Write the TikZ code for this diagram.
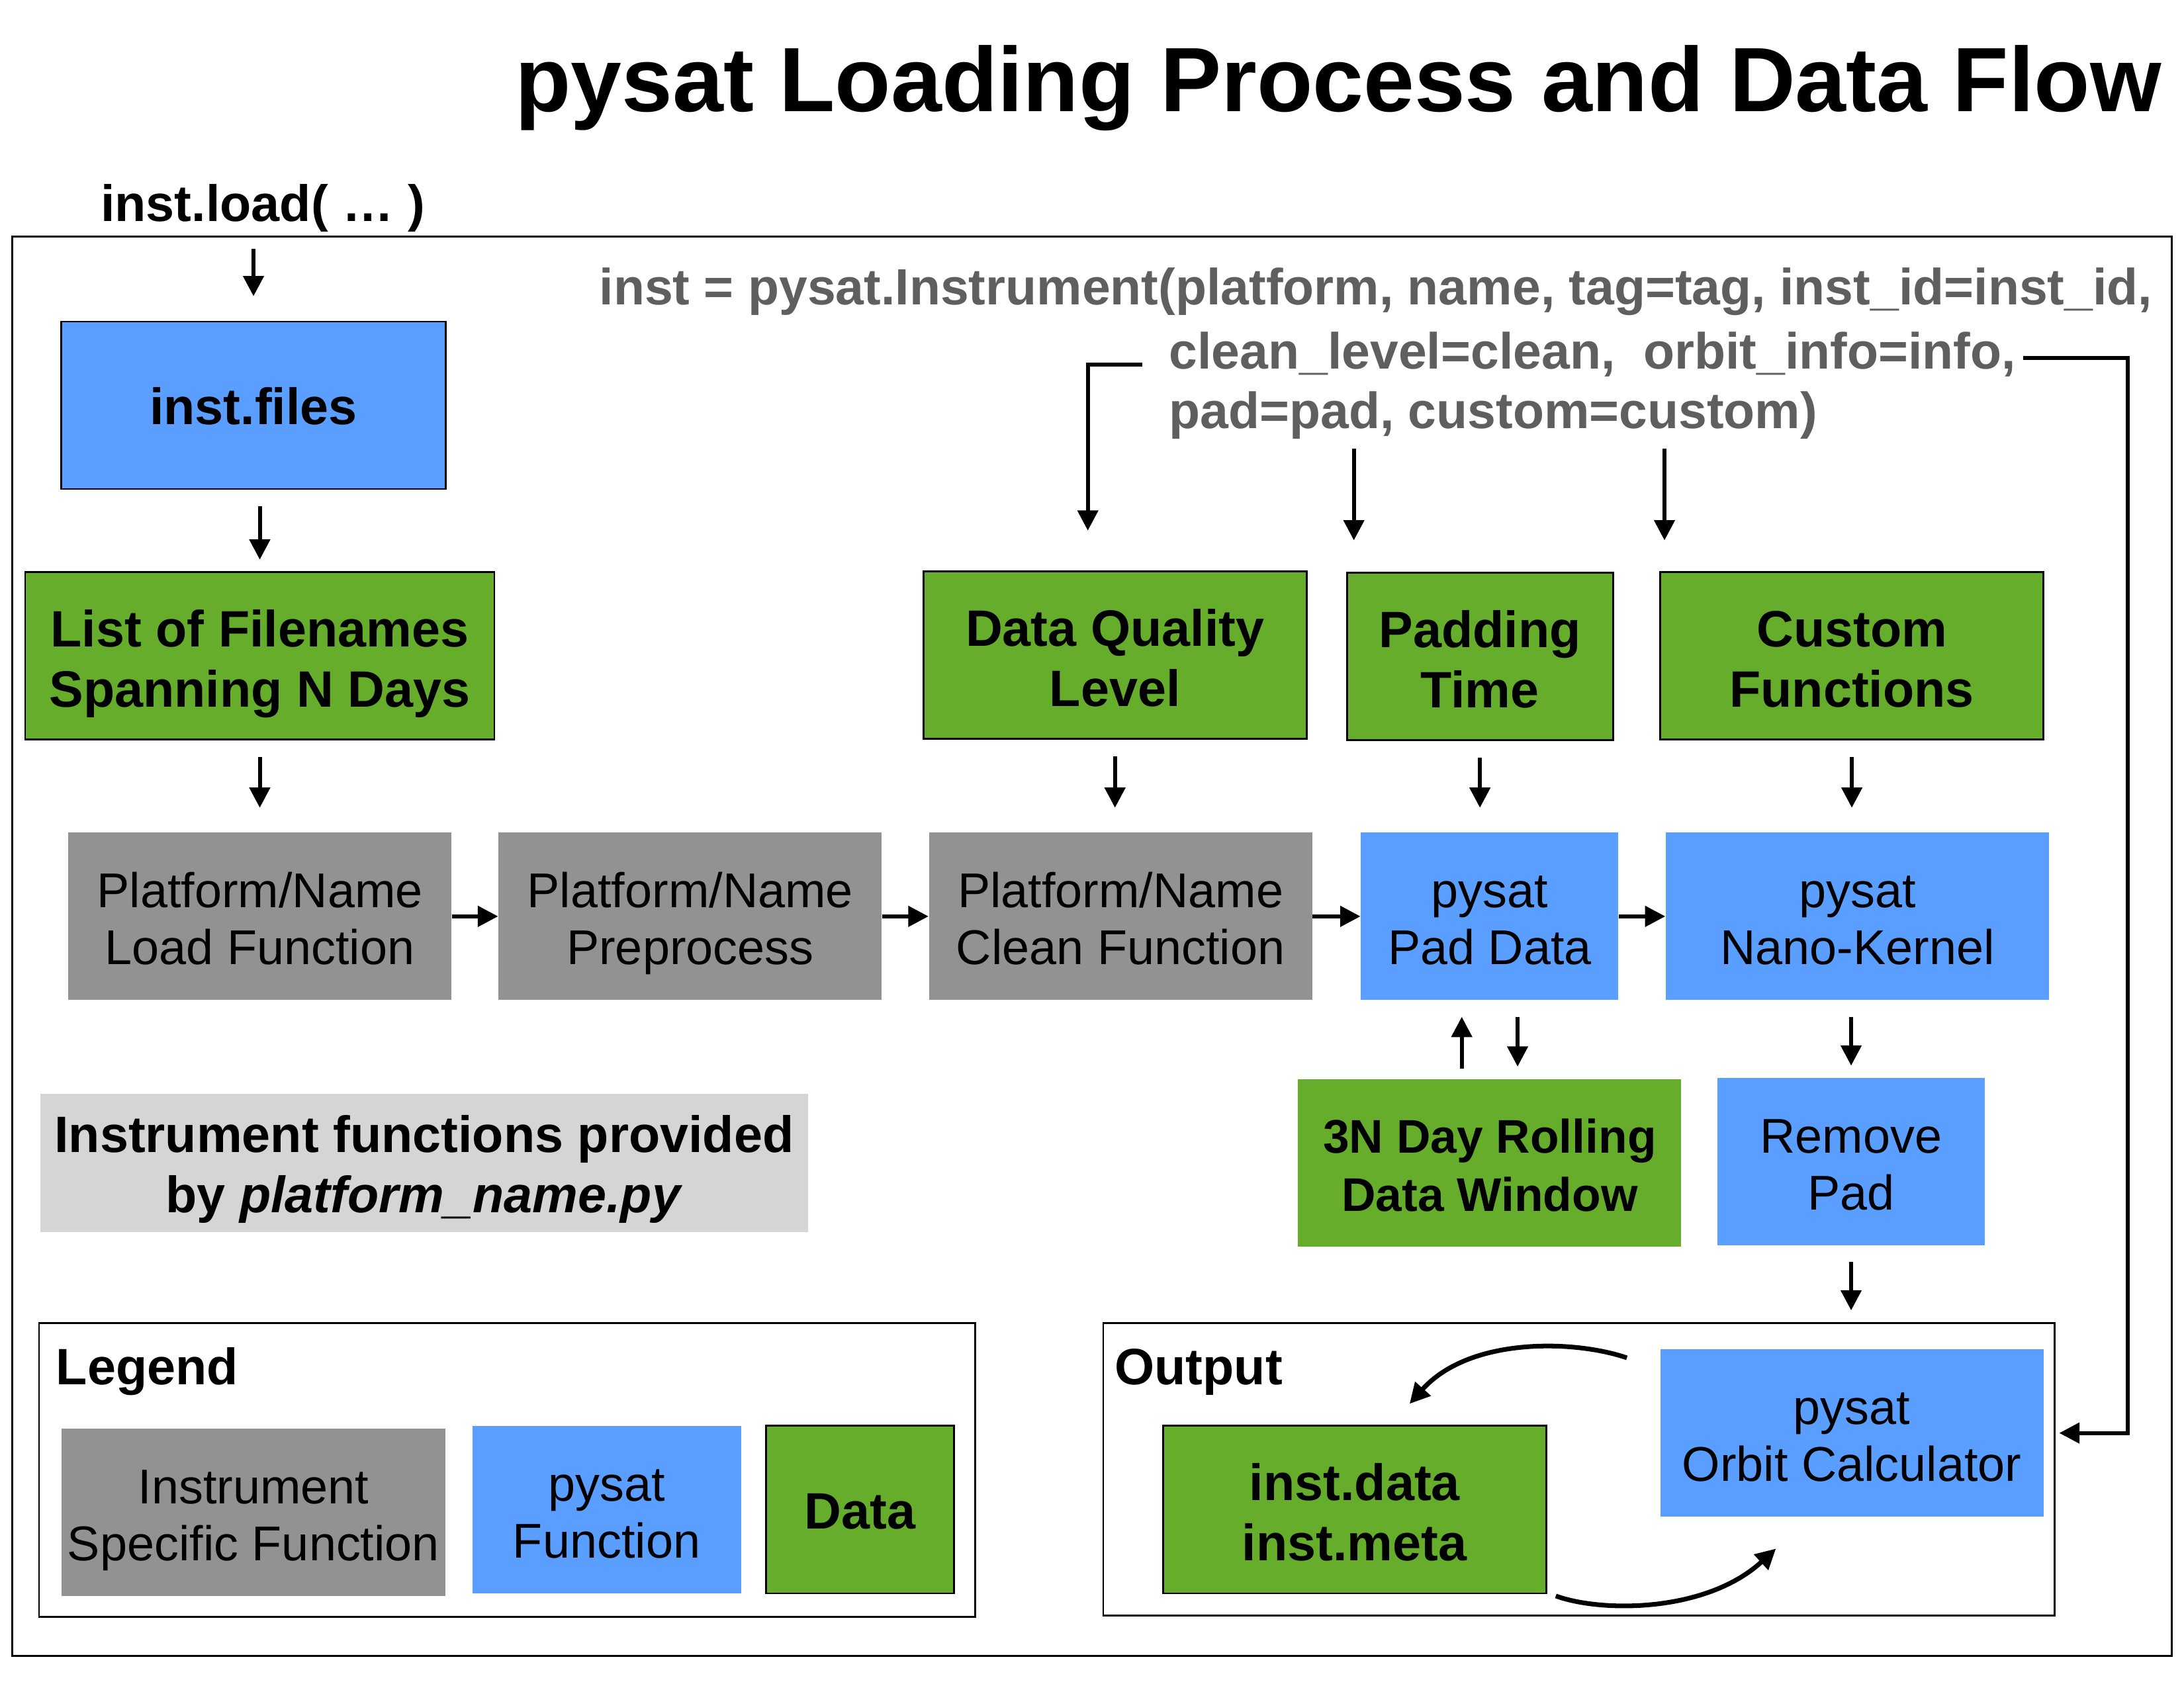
\documentclass[tikz,border=0pt]{standalone}
\usepackage{fontspec}
\setmainfont{Liberation Sans}
\usetikzlibrary{arrows.meta}
\definecolor{pysatblue}{HTML}{5A9EFF}
\definecolor{datagreen}{HTML}{65AD2B}
\definecolor{instgray}{HTML}{929292}
\definecolor{notegray}{HTML}{D5D5D5}
\definecolor{codegray}{HTML}{5F5F5F}
\newcommand{\regfont}{\fontsize{21}{24.5}\selectfont}
\newcommand{\boldfont}{\fontsize{22}{26}\selectfont\bfseries}
\tikzstyle{box}=[rectangle,minimum width=5.79cm,minimum height=2.53cm,inner sep=0pt,align=center,font=\regfont,text height=41.5pt,text depth=0pt]
\tikzstyle{inst box}=[box,fill=instgray]
\tikzstyle{pysat box}=[box,fill=pysatblue]
\tikzstyle{data box}=[box,fill=datagreen,draw=black,line width=0.8pt,font=\boldfont,text height=44pt]
\tikzstyle{panel}=[rectangle,draw=black,line width=0.8pt,inner sep=0pt]
\tikzstyle{heading}=[inner sep=0pt,font=\boldfont]
\tikzstyle{code}=[inner sep=0pt,font=\fontsize{21.9}{26}\selectfont\bfseries,text=codegray]
\tikzstyle{edge}=[draw,line width=1.7pt,-{Triangle[length=8.7pt,width=8.7pt]}]
\tikzstyle{gap edge}=[edge,shorten <=7pt,shorten >=5pt]
\tikzstyle{feed edge}=[edge,shorten <=7pt,shorten >=10.5pt]

\begin{document}
\begin{tikzpicture}[x=0.021046cm,y=-0.021046cm]
    \useasboundingbox (0,0) rectangle (1568,1212);
    % Title and the call that starts it all
    \node[anchor=base east,inner sep=0pt,font=\fontsize{39.3}{46}\selectfont\bfseries] (title) at (1552,80) {pysat Loading Process and Data Flow};
    \node[heading,anchor=base west] (loadcall) at (72,159) {inst.load( … )};

    % Frames
    \node[panel,minimum width=32.62cm,minimum height=21.45cm] (inst) at (784,679.5) {};
    \node[panel,minimum width=14.14cm,minimum height=4.44cm] (legend) at (364,1055.5) {};
    \node[panel,minimum width=14.37cm,minimum height=4.42cm] (output) at (1133.5,1055) {};
    \node[heading,anchor=base west] (legendname) at (40,994) {Legend};
    \node[heading,anchor=base west] (outputname) at (800,994) {Output};

    % Instrument call
    \node[code,anchor=base west] (call1) at (430,219) {inst = pysat.Instrument(platform, name, tag=tag, inst\_id=inst\_id,};
    \node[code,anchor=base west] (call2) at (839,265) {clean\_level=clean,\ \ orbit\_info=info,};
    \node[code,anchor=base west] (call3) at (839,307.5) {pad=pad, custom=custom)};

    % First we draw the instrument functions
    \foreach \pos/\name/\txt in {{(186.5,658)/load/{Platform/Name\\Load Function}},{(495.5,658)/prep/{Platform/Name\\Preprocess}},{(804.5,658)/clean/{Platform/Name\\Clean Function}}}
        \node[inst box] (\name) at \pos {\txt};

    % Then the pysat functions
    \node[pysat box,draw=black,line width=0.8pt,font=\boldfont,text height=16.5pt,minimum width=5.81cm] (files) at (182,291) {inst.files};
    \foreach \pos/\name/\boxwd/\txt in {{(1069.5,658)/pad/3.89cm/{pysat\\Pad Data}},{(1333.5,658)/nano/5.79cm/{pysat\\Nano-Kernel}},{(1329,834)/remove/4.04cm/{Remove\\Pad}},{(1329.5,1029)/orbit/5.79cm/{pysat\\Orbit Calculator}}}
        \node[pysat box,minimum width=\boxwd] (\name) at \pos {\txt};

    % And the data
    \foreach \pos/\name/\boxwd/\txt in {{(186.5,471)/list/7.09cm/{List of Filenames\\Spanning N Days}},{(800.5,470.5)/qual/5.79cm/{Data Quality\\Level}},{(1062.5,471.5)/padtime/4.02cm/{Padding\\Time}},{(1329.5,471)/custom/5.79cm/{Custom\\Functions}},{(972.5,1084)/outdata/5.79cm/{inst.data\\inst.meta}}}
        \node[data box,minimum width=\boxwd] (\name) at \pos {\txt};
    \node[data box,draw=none,font=\fontsize{20.3}{25}\selectfont\bfseries,text height=41.8pt] (roll) at (1069.5,835) {3N Day Rolling\\Data Window};

    % Note and legend
    \node[box,fill=notegray,font=\boldfont,text height=43pt,minimum width=11.6cm,minimum height=2.09cm] (note) at (304.5,835) {Instrument functions provided\\by \textit{platform\_name.py}};
    \node[inst box] (keyinst) at (182,1086) {Instrument\\Specific Function};
    \node[pysat box,minimum width=4.06cm] (keypysat) at (435.5,1084) {pysat\\Function};
    \node[data box,text height=16.5pt,minimum width=2.84cm] (keydata) at (617.5,1084) {Data};

    % Connect vertices with edges
    \foreach \source/\dest in {load/prep,prep/clean,clean/pad,pad/nano}
        \path[edge] (\source) -- (\dest);
    \foreach \source/\dest in {list/load,qual/clean,padtime/pad,custom/nano}
        \path[feed edge] (\source.south) -- (\source.south |- \dest.north);
    \path[feed edge] (files.north |- loadcall.south) -- (files.north);
    \path[gap edge] (list.north |- files.south) -- (list.north);
    \path[gap edge] (remove.north |- nano.south) -- (remove.north);
    \path[gap edge] (remove.south) -- (remove.south |- output.north);
    \path[gap edge] ([xshift=12pt]pad.south) -- ([xshift=12pt]roll.north);
    \path[edge,shorten <=4pt,shorten >=7pt] ([xshift=-12pt]roll.north) -- ([xshift=-12pt]pad.south);

    % Keywords from the call
    \coordinate (qualin) at (781,381);
    \coordinate (padin) at (972,388);
    \coordinate (customin) at (1195,388);
    \path[edge] ([shift={(-19,-3)}]call2.base west) -| (qualin);
    \path[edge] ([shift={(5,-8)}]call2.base east) -| ([shift={(60,0)}]orbit.east) -- ([shift={(11,0)}]orbit.east);
    \path[edge,shorten <=4pt] (padin |- call3.south) -- (padin);
    \path[edge,shorten <=4pt] (customin |- call3.south) -- (customin);

    % Output loop
    \coordinate (orbitleft) at (1168,975);
    \coordinate (datatop) at (1012,1008);
    \coordinate (databottom) at (1117,1146);
    \coordinate (orbitbottom) at (1275,1112);
    \path[edge,line width=2pt] (orbitleft) .. controls (1130,962) and (1055,960) .. (datatop);
    \path[edge,line width=2pt] (databottom) .. controls (1150,1158) and (1225,1158) .. (orbitbottom);
\end{tikzpicture}
\end{document}
